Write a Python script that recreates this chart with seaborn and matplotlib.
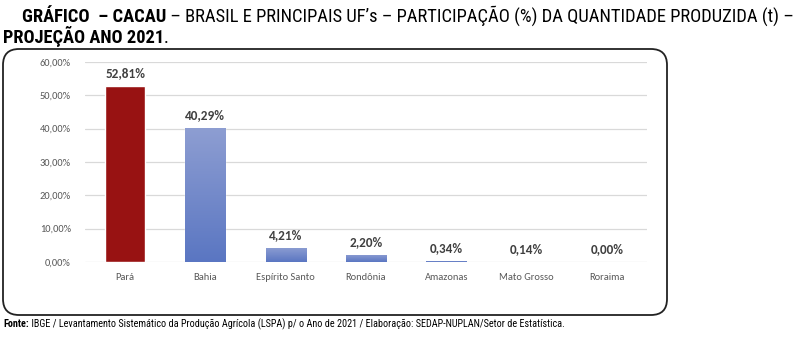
import matplotlib
matplotlib.use("Agg")
import matplotlib.pyplot as plt
import seaborn as sns
import numpy as np
import pandas as pd
from matplotlib.patches import FancyBboxPatch
from matplotlib.colors import LinearSegmentedColormap

categories = ["Pará", "Bahia", "Espírito Santo", "Rondônia", "Amazonas", "Mato Grosso", "Roraima"]
values = [52.81, 40.29, 4.21, 2.20, 0.34, 0.14, 0.00]
yticks = [0, 10, 20, 30, 40, 50, 60]

sns.set_theme(style="white")
plt.rcParams["font.family"] = ["Carlito", "DejaVu Sans"]
narrow = ["Roboto Condensed", "Liberation Sans", "DejaVu Sans"]

W, H = 800, 362
fig = plt.figure(figsize=(W / 100, H / 100), dpi=100)

# rounded frame
box = FancyBboxPatch((3 / W, (H - 315) / H), 664 / W, 266 / H,
                     boxstyle="round,pad=0,rounding_size=0.02",
                     transform=fig.transFigure, facecolor="none",
                     edgecolor="#222222", linewidth=1.3, zorder=-5,
                     mutation_aspect=W / H)
fig.patches.append(box)

ax = fig.add_axes([85 / W, (H - 262) / H, (647 - 85) / W, 200 / H])
ax.set_facecolor("none")
df = pd.DataFrame({"cat": categories, "val": values})
palette = {c: ("#981212" if i == 0 else "#7088CC") for i, c in enumerate(categories)}
sns.barplot(data=df, x="cat", y="val", hue="cat", palette=palette, width=0.5,
            ax=ax, legend=False, saturation=1, zorder=2)
ax.set_xlim(-0.5, 6.5)
ax.set_ylim(0, 60)
ax.set_yticks(yticks)
ax.set_yticklabels([f"{t:.2f}%".replace(".", ",") for t in yticks],
                   fontsize=7.5, color="#595959")
ax.tick_params(axis="x", labelsize=7.5, colors="#595959", length=0, pad=8)
ax.tick_params(axis="y", length=0, pad=10)
ax.set_xlabel("")
ax.set_ylabel("")
for s in ax.spines.values():
    s.set_visible(False)
ax.yaxis.grid(True, color="#D9D9D9", linewidth=0.9, zorder=0)
ax.set_axisbelow(True)

# gradient fill for blue bars
grad = np.linspace(0, 1, 256).reshape(-1, 1)
cmap = LinearSegmentedColormap.from_list("b", ["#5A76C2", "#8E9ED2"])
for i, p in enumerate(ax.patches):
    if i == 0:
        continue
    x0, y0 = p.get_x(), p.get_y()
    w, h = p.get_width(), p.get_height()
    if h <= 0:
        continue
    im = ax.imshow(grad, extent=[x0, x0 + w, y0, y0 + h], origin="lower",
                   cmap=cmap, aspect="auto", zorder=3)
    im.set_clip_path(p)
ax.set_xlim(-0.5, 6.5)
ax.set_ylim(0, 60)

for i, v in enumerate(values):
    ax.annotate(f"{v:.2f}%".replace(".", ","), (i, v), xytext=(0, 5),
                textcoords="offset points", ha="center", va="bottom",
                fontsize=9.5, fontweight="bold", color="#404040")

fig.canvas.draw()
r = fig.canvas.get_renderer()

def line(parts, x, y, size, target=None):
    texts = []
    for txt, bold in parts:
        t = fig.text(x / W, 1 - y / H, txt, fontsize=size,
                     fontweight="bold" if bold else "normal",
                     family=narrow, va="baseline", ha="left", color="black")
        texts.append(t)
    def layout():
        xx = x
        for t in texts:
            t.set_x(xx / W)
            xx += t.get_window_extent(renderer=r).width
        return xx - x
    total = layout()
    if target:
        s = size * target / total
        for t in texts:
            t.set_fontsize(s)
        layout()

line([("GRÁFICO  – CACAU", True),
      (" – BRASIL E PRINCIPAIS UF’s – PARTICIPAÇÃO (%) DA QUANTIDADE PRODUZIDA (t) –", False)],
     22, 22, 12, target=768)
line([("PROJEÇÃO ANO 2021", True), (".", False)], 3, 43, 12, target=166)
line([("Fonte:", True),
      (" IBGE / Levantamento Sistemático da Produção Agrícola (LSPA) p/ o Ano de 2021 / Elaboração: SEDAP-NUPLAN/Setor de Estatística.", False)],
     3, 327, 7, target=566)

fig.savefig("out.png", dpi=100)
